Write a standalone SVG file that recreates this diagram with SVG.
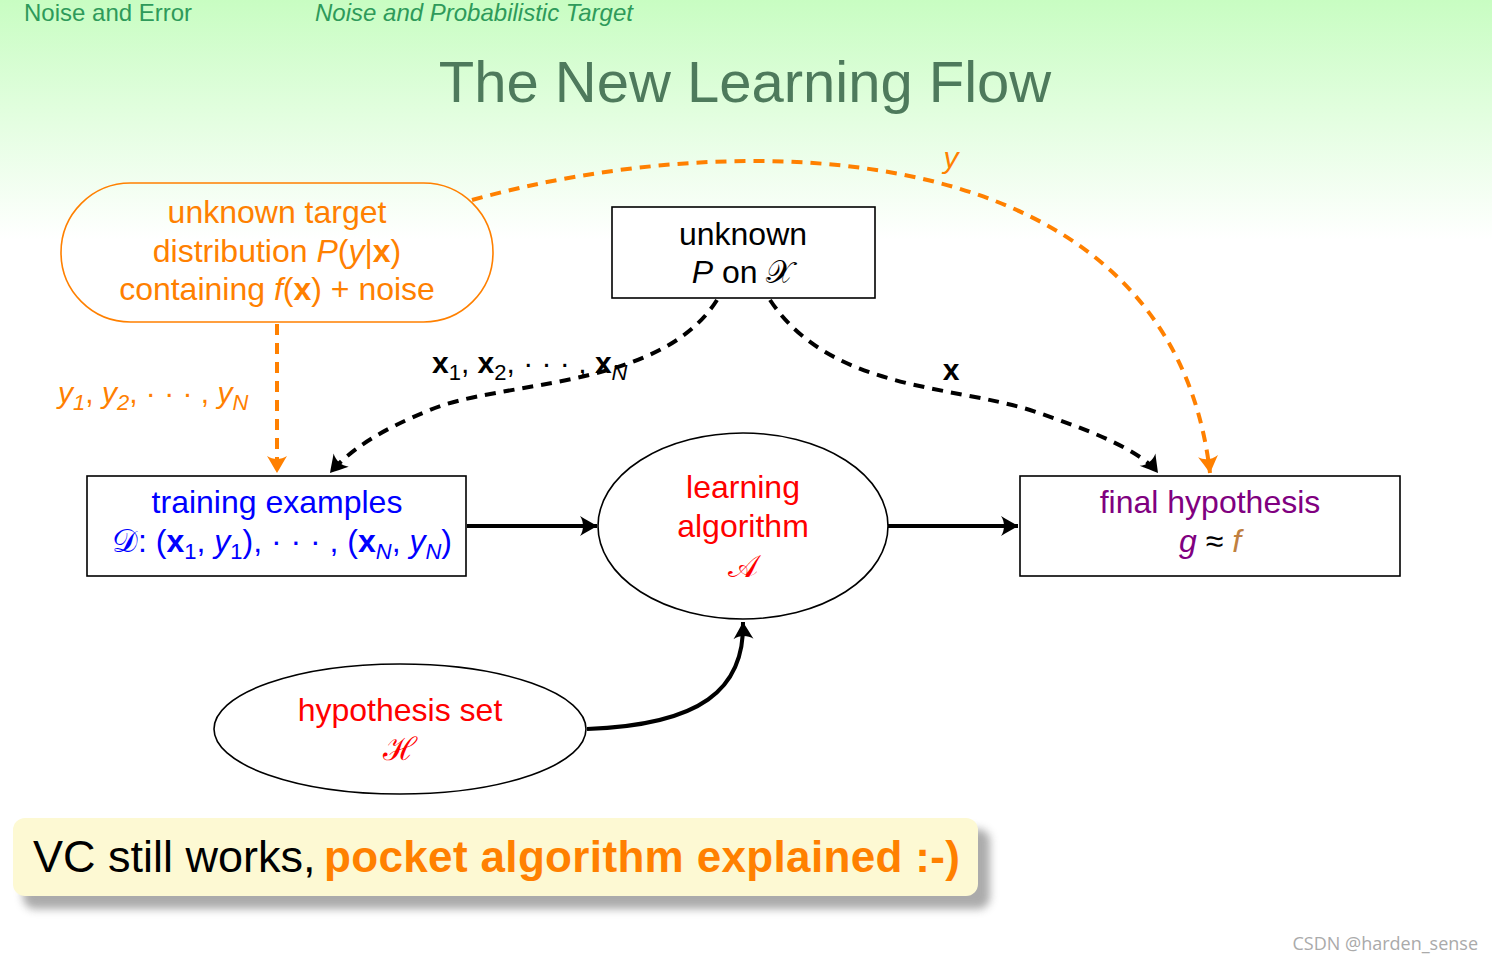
<svg xmlns="http://www.w3.org/2000/svg" width="1492" height="964" viewBox="0 0 1492 964">
<defs>
<linearGradient id="bg" x1="0" y1="0" x2="0" y2="240" gradientUnits="userSpaceOnUse">
<stop offset="0" stop-color="#c8fdc2"/>
<stop offset="1" stop-color="#ffffff"/>
</linearGradient>
<filter id="shadow" x="-5%" y="-30%" width="115%" height="170%">
<feGaussianBlur stdDeviation="4"/>
</filter>
<marker id="ab" viewBox="-20 -11 22 22" refX="0" refY="0" markerWidth="22" markerHeight="22" orient="auto" markerUnits="userSpaceOnUse">
<path d="M0,0 C-5,-3 -12,-7 -17,-10 C-13,-4 -13,4 -17,10 C-12,7 -5,3 0,0 Z" fill="#000"/>
</marker>
<marker id="ao" viewBox="-20 -11 22 22" refX="0" refY="0" markerWidth="22" markerHeight="22" orient="auto" markerUnits="userSpaceOnUse">
<path d="M0,0 C-5,-3 -12,-7 -17,-10 C-13,-4 -13,4 -17,10 C-12,7 -5,3 0,0 Z" fill="#ff8000"/>
</marker>
</defs>
<style>
.t{font-family:"Liberation Sans",Arial,sans-serif}
.n{font-size:32px}
.i{font-style:italic}
.b{font-weight:bold}
.sub{font-size:22px}
.cal{font-family:"DejaVu Serif","Liberation Serif",serif;font-style:normal}
.box{fill:#fff;stroke:#000;stroke-width:1.6}
.dash{fill:none;stroke-width:4;stroke-dasharray:11 8}
.solid{fill:none;stroke:#000;stroke-width:4}
</style>
<rect x="0" y="0" width="1492" height="964" fill="url(#bg)"/>
<text class="t" x="24" y="21" font-size="24" fill="#2e9a5a">Noise and Error</text>
<text class="t i" x="315" y="21" font-size="24" fill="#2e9a5a">Noise and Probabilistic Target</text>
<text class="t" x="745" y="102" font-size="58" fill="#4e7a5c" text-anchor="middle">The New Learning Flow</text>

<g id="connectors">
<path class="dash" stroke="#ff8000" d="M277,324 L277,473" marker-end="url(#ao)"/>
<path class="dash" stroke="#ff8000" d="M472,200 C740,125 1170,130 1210,473" marker-end="url(#ao)"/>
<path class="dash" stroke="#000" d="M717,300 C660,390 500,380 430,410 C380,430 350,450 330,473" marker-end="url(#ab)"/>
<path class="dash" stroke="#000" d="M770,300 C830,390 950,385 1030,410 C1090,430 1140,450 1158,473" marker-end="url(#ab)"/>
<path class="solid" d="M467,526 L597,526" marker-end="url(#ab)"/>
<path class="solid" d="M888,526 L1018,526" marker-end="url(#ab)"/>
<path class="solid" d="M587,729 C700,725 745,690 743,622" marker-end="url(#ab)"/>
<text class="t i" x="58" y="403" font-size="30" fill="#ff8000">y<tspan class="sub" dy="7">1</tspan><tspan dy="-7" font-style="normal">, </tspan>y<tspan class="sub" dy="7">2</tspan><tspan dy="-7" font-style="normal">, · · · , </tspan>y<tspan class="sub" dy="7">N</tspan></text>
<text class="t" x="432" y="373" font-size="30" fill="#000"><tspan class="b">x</tspan><tspan class="sub" dy="7">1</tspan><tspan dy="-7">, </tspan><tspan class="b">x</tspan><tspan class="sub" dy="7">2</tspan><tspan dy="-7">, · · · , </tspan><tspan class="b">x</tspan><tspan class="sub i" dy="7">N</tspan></text>
<text class="t b" x="951" y="380" font-size="30" fill="#000" text-anchor="middle">x</text>
<text class="t i" x="951" y="168" font-size="30" fill="#ff8000" text-anchor="middle">y</text>
</g>

<g id="target">
<rect x="61" y="183" width="432" height="139" rx="69.5" fill="none" stroke="#ff8000" stroke-width="1.6"/>
<text class="t n" x="277" y="223" fill="#ff8000" text-anchor="middle">unknown target</text>
<text class="t n" x="277" y="262" fill="#ff8000" text-anchor="middle">distribution <tspan class="i">P</tspan>(<tspan class="i">y</tspan>|<tspan class="b">x</tspan>)</text>
<text class="t n" x="277" y="300" fill="#ff8000" text-anchor="middle">containing <tspan class="i">f</tspan>(<tspan class="b">x</tspan>) + noise</text>
</g>

<g id="input-dist">
<rect class="box" x="612" y="207" width="263" height="91"/>
<text class="t n" x="743" y="245" fill="#000" text-anchor="middle">unknown</text>
<text class="t n" x="743" y="283" fill="#000" text-anchor="middle"><tspan class="i">P</tspan> on <tspan class="cal">𝒳</tspan></text>
</g>

<g id="training">
<rect class="box" x="87" y="476" width="379" height="100"/>
<text class="t n" x="277" y="513" fill="#0000ff" text-anchor="middle">training examples</text>
<text class="t n" x="282" y="552" fill="#0000ff" text-anchor="middle"><tspan class="cal">𝒟</tspan>: (<tspan class="b">x</tspan><tspan class="sub" dy="7">1</tspan><tspan dy="-7">, </tspan><tspan class="i">y</tspan><tspan class="sub" dy="7">1</tspan><tspan dy="-7">), · · · , (</tspan><tspan class="b">x</tspan><tspan class="sub i" dy="7">N</tspan><tspan dy="-7">, </tspan><tspan class="i">y</tspan><tspan class="sub i" dy="7">N</tspan><tspan dy="-7">)</tspan></text>
</g>

<g id="algorithm">
<ellipse cx="743" cy="526" rx="145" ry="93" fill="#fff" stroke="#000" stroke-width="1.6"/>
<text class="t n" x="743" y="498" fill="#ff0000" text-anchor="middle">learning</text>
<text class="t n" x="743" y="537" fill="#ff0000" text-anchor="middle">algorithm</text>
<text class="n cal" x="743" y="577" fill="#ff0000" text-anchor="middle">𝒜</text>
</g>

<g id="final">
<rect class="box" x="1020" y="476" width="380" height="100"/>
<text class="t n" x="1210" y="513" fill="#800080" text-anchor="middle">final hypothesis</text>
<text class="t n" x="1210" y="552" text-anchor="middle"><tspan class="i" fill="#800080">g</tspan><tspan fill="#000"> ≈ </tspan><tspan class="i" fill="#c08040">f</tspan></text>
</g>

<g id="hypset">
<ellipse cx="400" cy="729" rx="186" ry="65" fill="#fff" stroke="#000" stroke-width="1.6"/>
<text class="t n" x="400" y="721" fill="#ff0000" text-anchor="middle">hypothesis set</text>
<text class="n cal" x="400" y="760" fill="#ff0000" text-anchor="middle">ℋ</text>
</g>

<g id="summary">
<rect x="23" y="829" width="967" height="80" rx="12" fill="#888" opacity="0.7" filter="url(#shadow)"/>
<rect x="13" y="818" width="965" height="78" rx="12" fill="#fdf9d3"/>
<text class="t" x="33" y="872" font-size="45" fill="#000">VC still works,</text>
<text class="t b" x="324" y="872" font-size="44" fill="#ff8000" textLength="636">pocket algorithm explained :-)</text>
</g>

<text x="1478" y="950" font-family="'Open Sans','Noto Sans',sans-serif" font-size="18" fill="#aaaaaa" text-anchor="end">CSDN @harden_sense</text>
</svg>
